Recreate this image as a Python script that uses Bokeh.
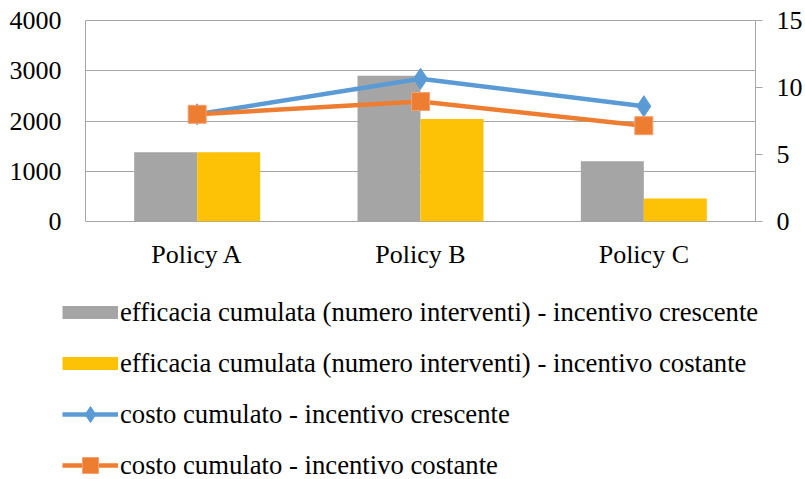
from bokeh.plotting import figure
from bokeh.models import (ColumnDataSource, FactorRange, Range1d, LinearAxis,
                          FixedTicker, Legend, LegendItem)
from bokeh.transform import dodge
from bokeh.embed import file_html
from bokeh.resources import INLINE

categories = ["Policy A", "Policy B", "Policy C"]
eff_crescente = [1380, 2900, 1200]
eff_costante = [1380, 2040, 460]
costo_crescente = [8.0, 10.65, 8.6]
costo_costante = [8.0, 8.95, 7.15]
left_ticks = [0, 1000, 2000, 3000, 4000]
right_ticks = [0, 5, 10, 15]

labels = [
    "efficacia cumulata (numero interventi) - incentivo crescente",
    "efficacia cumulata (numero interventi) - incentivo costante",
    "costo cumulato - incentivo crescente",
    "costo cumulato - incentivo costante",
]

src = ColumnDataSource(dict(cat=categories, ec=eff_crescente, ek=eff_costante,
                            cc=costo_crescente, ck=costo_costante))

FONT = "Liberation Serif"
FS = "26px"
GRID = "#A6A6A6"
GRAY = "#A5A5A5"
YELLOW = "#FDC106"
BLUE = "#5B9BD5"
ORANGE = "#ED7D31"

# ---------------- main chart ----------------
p = figure(x_range=FactorRange(factors=categories, range_padding=0),
           y_range=Range1d(0, 4000),
           width=805, height=282, output_backend="svg", toolbar_location=None,
           min_border_left=85, min_border_right=50, min_border_top=20,
           min_border_bottom=61)
p.extra_y_ranges = {"right": Range1d(0, 15)}

p.outline_line_color = GRID
p.outline_line_width = 1
p.xgrid.visible = False
p.ygrid.grid_line_color = GRID
p.ygrid.ticker = FixedTicker(ticks=left_ticks)

bw = 0.282
p.vbar(x=dodge("cat", -0.141, range=p.x_range), top="ec", width=bw,
       source=src, fill_color=GRAY, line_color=None)
p.vbar(x=dodge("cat", 0.141, range=p.x_range), top="ek", width=bw,
       source=src, fill_color=YELLOW, line_color=None)

p.line(x="cat", y="cc", source=src, y_range_name="right",
       line_color=BLUE, line_width=4.5)
p.scatter(x="cat", y="cc", source=src, y_range_name="right",
          marker="diamond", size=21, fill_color=BLUE, line_color=BLUE)
p.line(x="cat", y="ck", source=src, y_range_name="right",
       line_color=ORANGE, line_width=4.5)
p.scatter(x="cat", y="ck", source=src, y_range_name="right",
          marker="square", size=18, fill_color=ORANGE, line_color="#F4A070")

ya = p.yaxis[0]
ya.ticker = FixedTicker(ticks=left_ticks)
ya.axis_line_color = None
ya.major_tick_line_color = None
ya.minor_tick_line_color = None
ya.major_label_standoff = 18
ya.major_label_text_font = FONT
ya.major_label_text_font_size = FS
ya.major_label_text_color = "#000000"

ra = LinearAxis(y_range_name="right", ticker=FixedTicker(ticks=right_ticks))
ra.axis_line_color = GRID
ra.major_tick_line_color = GRID
ra.major_tick_in = 0
ra.major_tick_out = 7
ra.minor_tick_line_color = None
ra.major_label_standoff = 14
ra.major_label_text_font = FONT
ra.major_label_text_font_size = FS
ra.major_label_text_color = "#000000"
p.add_layout(ra, "right")

xa = p.xaxis[0]
xa.axis_line_color = None
xa.major_tick_line_color = None
xa.major_label_standoff = 12
xa.major_label_text_font = FONT
xa.major_label_text_font_size = FS
xa.major_label_text_color = "#000000"

# ---------------- legend strip ----------------
lg = figure(width=805, height=197, output_backend="svg", toolbar_location=None,
            x_range=Range1d(0, 1), y_range=Range1d(0, 1),
            x_axis_location=None, y_axis_location=None, min_border=0,
            min_border_left=0, min_border_right=0, min_border_top=0,
            min_border_bottom=0)
lg.outline_line_color = None
lg.grid.visible = False

k1 = lg.line(x="cc", y="ck", source=src, line_color=GRAY, line_width=13, visible=False)
k2 = lg.line(x="cc", y="ck", source=src, line_color=YELLOW, line_width=13, visible=False)
k3 = lg.line(x="cc", y="cc", source=src, line_color=BLUE, line_width=4.5, visible=False)
m3 = lg.scatter(x="cc", y="cc", source=src, marker="diamond", fill_color=BLUE,
                line_color=BLUE, visible=False)
k4 = lg.line(x="ck", y="ck", source=src, line_color=ORANGE, line_width=4.5, visible=False)
m4 = lg.scatter(x="ck", y="ck", source=src, marker="square", fill_color=ORANGE,
                line_color="#F4A070", visible=False)

legend = Legend(items=[
    LegendItem(label=labels[0], renderers=[k1]),
    LegendItem(label=labels[1], renderers=[k2]),
    LegendItem(label=labels[2], renderers=[k3, m3]),
    LegendItem(label=labels[3], renderers=[k4, m4]),
], location=(62, -6), orientation="vertical",
    glyph_width=56, glyph_height=40, label_height=30, spacing=11,
    padding=0, margin=0, border_line_color=None, background_fill_alpha=0,
    inactive_fill_alpha=0, click_policy="none",
    label_text_font=FONT, label_text_font_size="26.7px", label_standoff=2,
    label_text_color="#000000")
lg.add_layout(legend, "center")

open("out.html", "w").write(file_html([p, lg], INLINE))
